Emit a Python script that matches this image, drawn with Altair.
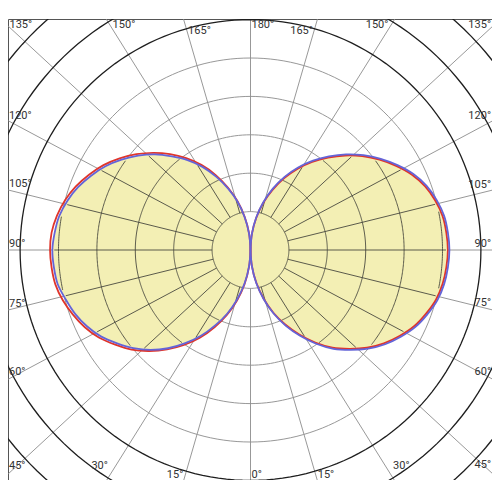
import math
import altair as alt
import pandas as pd

# ---------------- data (luminous intensity, cd/klm) ----------------
gamma = list(range(0, 181, 5))  # gamma angle, 0 = straight down, 180 = straight up
# C0-C180 plane (red): right half = C0, left half = C180
c0 = [0, 21, 43, 65, 87, 107, 127, 147, 166, 182, 198, 212, 224, 235, 243, 250, 254, 256, 257,
      256, 254, 249, 242, 232, 219, 205, 190, 174, 157, 140, 122, 103, 83, 63, 42, 21, 0]
c180 = [0, 22, 46, 68, 90, 111, 132, 151, 169, 186, 202, 215, 228, 238, 246, 253, 258, 260, 261,
        260, 256, 250, 242, 232, 221, 208, 194, 179, 163, 146, 128, 108, 87, 66, 44, 22, 0]
# C90-C270 plane (blue): right half = C90, left half = C270
c90 = [0, 21, 44, 66, 88, 109, 129, 149, 168, 184, 200, 214, 226, 237, 245, 252, 256, 258, 259,
       258, 256, 251, 244, 234, 221, 207, 192, 176, 159, 142, 124, 105, 85, 64, 43, 21, 0]
c270 = [0, 21, 44, 66, 88, 108, 129, 148, 167, 184, 199, 212, 225, 235, 243, 249, 255, 257, 258,
        256, 253, 247, 239, 229, 218, 205, 191, 176, 159, 143, 125, 105, 85, 65, 43, 21, 0]

ring_values = [50, 100, 150, 200, 250, 300, 350, 400, 450]
thick_from = 300
spoke_angles = list(range(0, 181, 15))
label_angles = list(range(0, 181, 15))

# ---------------- layout ----------------
K = 38.4 / 50.0            # px per cd
CX, CY = 250.5, 250.0      # page position of pole
PL, PR, PT, PB = 8, 492, 19, 480   # plot area on page
W, H = PR - PL, PB - PT
XMIN, XMAX = (PL - CX) / K, (PR - CX) / K
YMIN, YMAX = -(PB - CY) / K, (CY - PT) / K
STRETCH = 250.0 / 231.0    # spokes of the original are drawn in a slightly wide box

xs = alt.Scale(domain=[XMIN, XMAX], nice=False, zero=False)
ys = alt.Scale(domain=[YMIN, YMAX], nice=False, zero=False)
X = lambda f: alt.X(f, type="quantitative", scale=xs, axis=None)
Y = lambda f: alt.Y(f, type="quantitative", scale=ys, axis=None)


def polar(side, g, r):
    a = math.radians(g)
    return side * r * math.sin(a), -r * math.cos(a)


def interp(vals, g):
    g = min(max(g, 0.0), 180.0)
    i = min(int(g // 5), len(gamma) - 2)
    t = (g - gamma[i]) / 5.0
    return vals[i] * (1 - t) + vals[i + 1] * t


# curves
curve_rows = []
for plane, series in (("red", {1: c0, -1: c180}), ("blue", {1: c90, -1: c270})):
    for side, vals in series.items():
        for g, v in zip(gamma, vals):
            x, y = polar(side, g, v)
            curve_rows.append({"plane": plane, "lobe": f"{plane}{side}", "g": g, "x": x, "y": y})
curves = pd.DataFrame(curve_rows)

fill_vals = {1: [min(a, b) for a, b in zip(c0, c90)], -1: [min(a, b) for a, b in zip(c180, c270)]}
fill_rows = []
for side, vals in fill_vals.items():
    for g, v in zip(gamma, vals):
        x, y = polar(side, g, v)
        fill_rows.append({"lobe": str(side), "g": g, "x": x, "y": y})
fills = pd.DataFrame(fill_rows)

ring_rows = []
for rv in ring_values:
    for t in range(0, 361, 2):
        a = math.radians(t)
        ring_rows.append({"ring": rv, "t": t, "x": rv * math.cos(a), "y": rv * math.sin(a),
                          "thick": rv >= thick_from})
rings = pd.DataFrame(ring_rows)

INSET = 2.5
spoke_rows, spoke_in_rows = [], []
for g in spoke_angles:
    for side in ([1] if g in (0, 180) else [1, -1]):
        a = math.radians(g)
        dx, dy = side * STRETCH * math.sin(a), -math.cos(a)
        n = math.hypot(dx, dy)
        dx, dy = dx / n, dy / n
        r0 = ring_values[0]
        spoke_rows.append({"x": r0 * dx, "y": r0 * dy, "x2": 1000 * dx, "y2": 1000 * dy})
        if side != 0 and g not in (0, 180):
            gp = math.degrees(math.acos(-dy))
            rmax = interp(fill_vals[side], gp) - INSET
            if rmax > r0:
                spoke_in_rows.append({"x": r0 * dx, "y": r0 * dy, "x2": rmax * dx, "y2": rmax * dy})
spokes = pd.DataFrame(spoke_rows)
spokes_in = pd.DataFrame(spoke_in_rows)

# parts of the rings that lie inside the filled lobes (drawn darker over the fill)
arc_rows = []
seg = 0
for side, vals in fill_vals.items():
    for rv in ring_values:
        run = False
        for k in range(0, 361):
            g = k * 0.5
            inside = interp(vals, g) - INSET >= rv
            if inside:
                if not run:
                    seg += 1
                    run = True
                x, y = polar(side, g, rv)
                arc_rows.append({"seg": seg, "k": k, "x": x, "y": y})
            else:
                run = False
arcs_in = pd.DataFrame(arc_rows)

# labels (placed in page px beside the spoke, on the side of increasing angle)
lab_rows = []
for g in label_angles:
    for side in ([1] if g in (0, 180) else [-1, 1]):
        a = math.radians(g)
        dxp, dyp = side * STRETCH * math.sin(a), math.cos(a)
        txt = f"{g}°"
        if g == 0:
            px, py, al = CX + 1, 475, "left"
        elif g == 180:
            px, py, al = CX + 1, 24.5, "left"
        elif 45 <= g <= 120:
            xe = 10 if side < 0 else 490
            py = CY + (xe - CX) / dxp * dyp - 6
            if side < 0:
                px, al = PL + 1, "left"
            else:
                px, al = PR - 1, "right"
        elif g >= 135:
            py = 24.5
            lx = CX + (py - CY) / dyp * dxp
            if side < 0:
                px, al, xc = lx + 3, "left", lx + 13
            else:
                px, al, xc = lx - 3, "right", lx - 13
            r = 231
            if abs(xc - CX) < r:
                ay = CY - math.sqrt(r * r - (xc - CX) ** 2)
                if 18 <= ay <= 33:
                    py = ay + 6
        else:
            py = 475
            lx = CX + (py - CY) / dyp * dxp
            if side < 0:
                px, al, xc = lx - 2, "right", lx - 10
            else:
                px, al, xc = lx + 2, "left", lx + 10
            r = 270
            if abs(xc - CX) < r:
                ay = CY + math.sqrt(r * r - (xc - CX) ** 2)
                if 469 <= ay <= 482:
                    py = ay - 8
        if al == "left":
            px = max(px, PL + 1)
        else:
            px = min(px, PR - 1)
        lab_rows.append({"text": txt, "anchor": al, "x": (px - CX) / K, "y": (CY - py) / K})
labels = pd.DataFrame(lab_rows)

# ---------------- chart ----------------
FONT = "Roboto"
GRID = "#8c8c8c"
GRID_IN = "#4a4a40"

fill_layer = alt.Chart(fills).mark_line(
    fill="#f3efb4", stroke="#f3efb4", strokeOpacity=0, interpolate="catmull-rom", clip=True
).encode(x=X("x"), y=Y("y"), detail="lobe:N", order=alt.Order("g:Q"))

thin_rings = alt.Chart(rings[~rings["thick"]]).mark_line(
    color=GRID, strokeWidth=0.9, clip=True
).encode(x=X("x"), y=Y("y"), detail="ring:N", order=alt.Order("t:Q"))

thick_rings = alt.Chart(rings[rings["thick"]]).mark_line(
    color="#1e1e1e", strokeWidth=1.3, clip=True
).encode(x=X("x"), y=Y("y"), detail="ring:N", order=alt.Order("t:Q"))

spoke_layer = alt.Chart(spokes).mark_rule(color=GRID, strokeWidth=0.9, clip=True).encode(
    x=X("x"), y=Y("y"), x2="x2:Q", y2="y2:Q")

spoke_in_layer = alt.Chart(spokes_in).mark_rule(color=GRID_IN, strokeWidth=0.9, clip=True).encode(
    x=X("x"), y=Y("y"), x2="x2:Q", y2="y2:Q")

arc_in_layer = alt.Chart(arcs_in).mark_line(color=GRID_IN, strokeWidth=0.9, clip=True).encode(
    x=X("x"), y=Y("y"), detail="seg:N", order=alt.Order("k:Q"))

red_layer = alt.Chart(curves[curves["plane"] == "red"]).mark_line(
    color="#e0352b", strokeWidth=1.8, interpolate="catmull-rom", clip=True
).encode(x=X("x"), y=Y("y"), detail="lobe:N", order=alt.Order("g:Q"))

blue_layer = alt.Chart(curves[curves["plane"] == "blue"]).mark_line(
    color="#6464d8", strokeWidth=1.8, interpolate="catmull-rom", clip=True
).encode(x=X("x"), y=Y("y"), detail="lobe:N", order=alt.Order("g:Q"))

lab_left = alt.Chart(labels[labels["anchor"] == "left"]).mark_text(
    align="left", baseline="middle", font=FONT, fontSize=11, color="#333333"
).encode(x=X("x"), y=Y("y"), text="text:N")

lab_right = alt.Chart(labels[labels["anchor"] == "right"]).mark_text(
    align="right", baseline="middle", font=FONT, fontSize=11, color="#333333"
).encode(x=X("x"), y=Y("y"), text="text:N")

chart = alt.layer(
    thin_rings, spoke_layer, fill_layer, arc_in_layer, spoke_in_layer, thick_rings,
    red_layer, blue_layer, lab_left, lab_right
).properties(
    width=W, height=H,
    padding={"left": 0, "top": PT - 8, "right": 0, "bottom": 0},
    autosize=alt.AutoSizeParams(type="none"),
    background="white",
).configure_view(stroke="#555555", strokeWidth=1)

chart.save("out.html", embed_options={"renderer": "svg", "actions": False})
